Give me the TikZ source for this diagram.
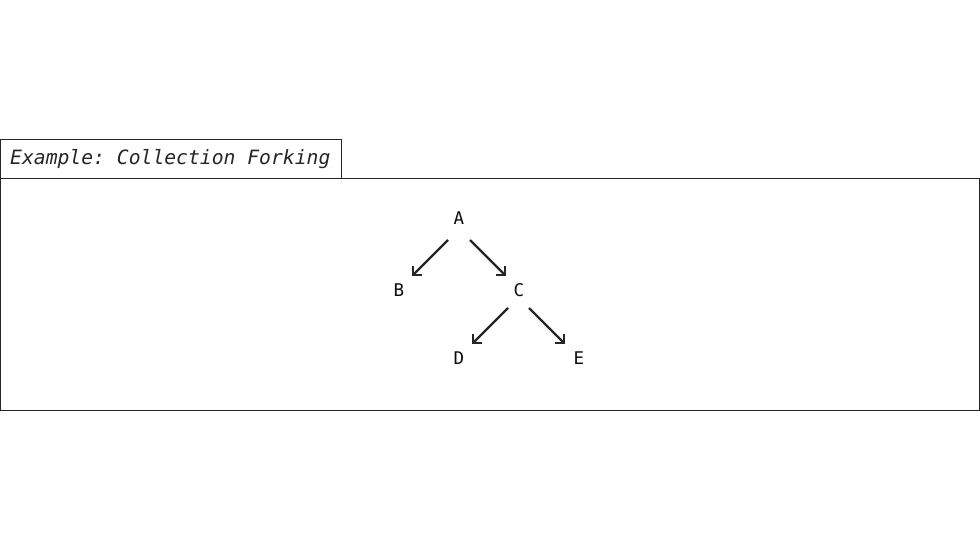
\documentclass[tikz,border=0pt]{standalone}
\usepackage{fontspec}
\setmonofont{DejaVu Sans Mono}
\usetikzlibrary{arrows.meta,calc}
\tikzset{
  frame/.style={draw=black!85, line width=1pt},
  letter/.style={font=\ttfamily\fontsize{17.5}{17.5}\selectfont, text=black!95, inner sep=0pt},
  title/.style={font=\ttfamily\itshape\fontsize{19.7}{19.7}\selectfont, text=black!85, anchor=west, inner sep=0pt},
  link/.style={draw=black!85, line width=2.2pt, -{Straight Barb[angle=90:8.5pt]}},
}
\begin{document}
\begin{tikzpicture}[x=1pt,y=-1pt]
\useasboundingbox (0,0) rectangle (980,549);
\fill[white] (0,0) rectangle (980,549);
\draw[frame] (0.5,178) rectangle (979,410);
\draw[frame] (0.5,178) -- (0.5,139) -- (341,139) -- (341,178);
\node[title] (T) at (10,159.5) {Example: Collection Forking};
\node[letter] (A) at (459,218) {A};
\node[letter] (B) at (399,290) {B};
\node[letter] (C) at (519,290) {C};
\node[letter] (D) at (459,358) {D};
\node[letter] (E) at (579,358) {E};
\draw[link] ($(A)+(-11,22)$) -- ($(B)+(13,-14)$);
\draw[link] ($(A)+(11,22)$) -- ($(C)+(-13,-14)$);
\draw[link] ($(C)+(-11,18)$) -- ($(D)+(13,-14)$);
\draw[link] ($(C)+(10,18)$) -- ($(E)+(-14,-14)$);
\end{tikzpicture}
\end{document}
